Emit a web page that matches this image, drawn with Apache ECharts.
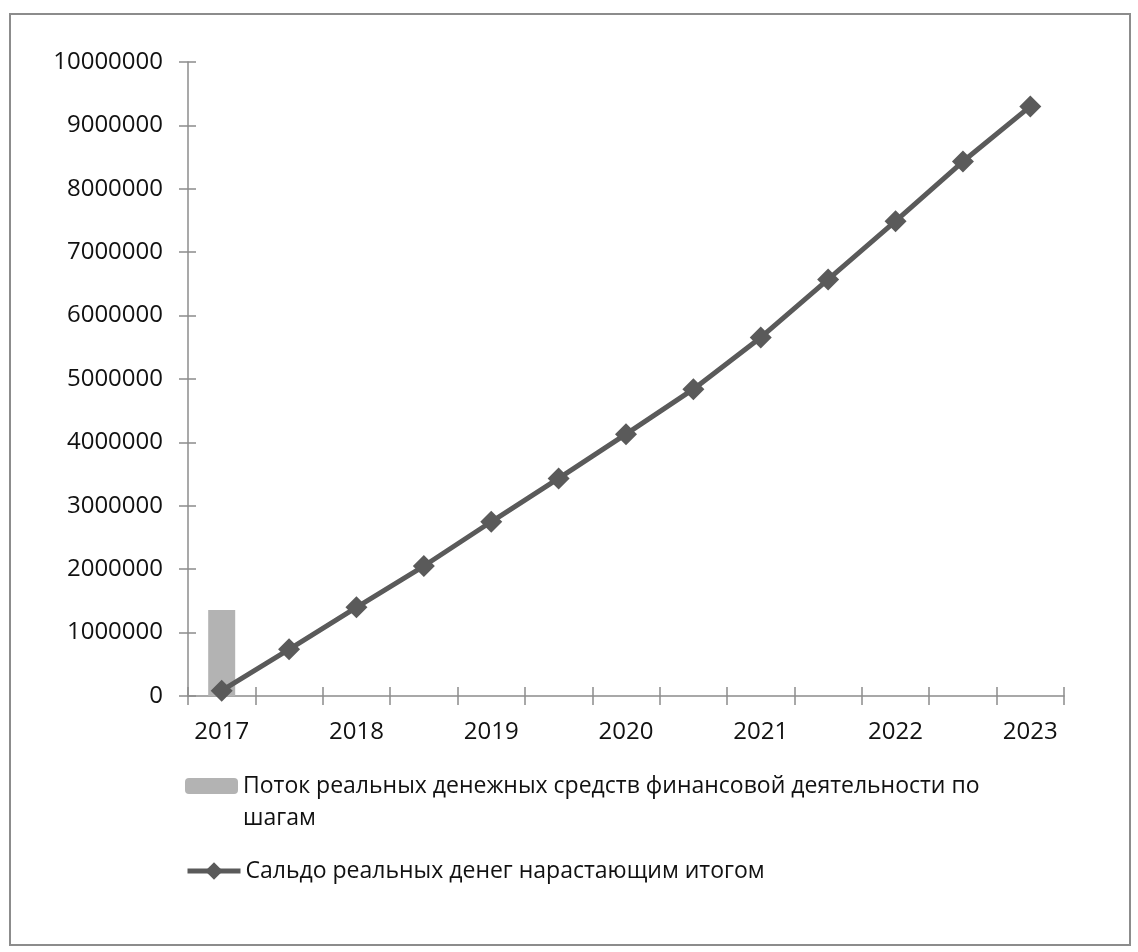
<!DOCTYPE html>
<html>
<head>
<meta charset="utf-8">
<script src="https://cdn.jsdelivr.net/npm/echarts@6/dist/echarts.min.js"></script>
<style>
  html, body { margin: 0; padding: 0; background: #fff; }
  #chart { width: 1138px; height: 952px; }
</style>
</head>
<body>
<div id="chart"></div>
<script>
// полугодовые шаги, подписи только у целых лет
const categories = ['2017', '', '2018', '', '2019', '', '2020', '', '2021', '', '2022', '', '2023']
const flowByStep = [1356000, null, null, null, null, null, null, null, null, null, null, null, null]
const balanceTotal = [84000, 736000, 1398000, 2050000, 2748000, 3432000, 4130000, 4840000, 5655000, 6570000, 7490000, 8430000, 9300000]
const flowName = 'Поток реальных денежных средств финансовой деятельности по шагам'
const balanceName = 'Сальдо реальных денег нарастающим итогом'

const axisColor = '#8c8c8c'
const textColor = '#111'
const lineColor = '#5a5a5a'
const font = 'Open Sans'
const fontSize = 23
const axisFontSize = 24
const lh = 32

const myChart = echarts.init(document.getElementById('chart'))

const option = {
    animation: false,
    backgroundColor: '#fff',
    textStyle: { fontFamily: font },
    graphic: [
        {
            type: 'rect',
            shape: { x: 10, y: 14, width: 1120, height: 931 },
            style: { fill: 'none', stroke: axisColor, lineWidth: 2 },
            silent: true
        }
    ],
    grid: { left: 188, top: 62, width: 876, height: 634 },
    legend: [
        {
            data: [flowName],
            orient: 'vertical',
            left: 185,
            top: 738,
            padding: 0,
            itemWidth: 53,
            itemHeight: 16,
            selectedMode: false,
            // пустая первая строка, чтобы значок стоял напротив первой строки текста
            formatter: () => '\nПоток реальных денежных средств финансовой деятельности по\nшагам',
            textStyle: { color: textColor, fontSize: fontSize, fontFamily: font, lineHeight: lh }
        },
        {
            data: [balanceName],
            orient: 'vertical',
            left: 185,
            top: 855,
            padding: 0,
            itemWidth: 53,
            itemHeight: 22,
            selectedMode: false,
            lineStyle: { width: 5, color: lineColor },
            textStyle: { color: textColor, fontSize: fontSize, fontFamily: font, lineHeight: lh }
        }
    ],
    xAxis: [
        {
            type: 'category',
            data: categories,
            boundaryGap: true,
            axisLine: { lineStyle: { color: axisColor, width: 1.5 } },
            axisTick: { show: true, interval: 0, length: 9, lineStyle: { color: axisColor, width: 1.5 } },
            axisLabel: { interval: 0, margin: 24, color: textColor, fontSize: axisFontSize, fontFamily: font },
            splitLine: { show: false }
        },
        {
            // вторая ось только ради засечек внутрь (крестиком, как в Excel)
            type: 'category',
            data: categories,
            position: 'bottom',
            boundaryGap: true,
            axisLine: { show: false },
            axisTick: { show: true, inside: true, interval: 0, length: 9, lineStyle: { color: axisColor, width: 1.5 } },
            axisLabel: { show: false },
            splitLine: { show: false }
        }
    ],
    yAxis: [
        {
            type: 'value',
            min: 0,
            max: 10000000,
            interval: 1000000,
            axisLine: { show: true, lineStyle: { color: axisColor, width: 1.5 } },
            axisTick: { show: true, length: 9, lineStyle: { color: axisColor, width: 1.5 } },
            axisLabel: { margin: 25, color: textColor, fontSize: axisFontSize, fontFamily: font, formatter: (v) => String(v) },
            splitLine: { show: false }
        },
        {
            type: 'value',
            position: 'left',
            min: 0,
            max: 10000000,
            interval: 1000000,
            axisLine: { show: false },
            axisTick: { show: true, inside: true, length: 8, lineStyle: { color: axisColor, width: 1.5 } },
            axisLabel: { show: false },
            splitLine: { show: false }
        }
    ],
    series: [
        {
            name: flowName,
            type: 'bar',
            data: flowByStep,
            barWidth: 27,
            itemStyle: { color: '#b3b3b3' }
        },
        {
            name: balanceName,
            type: 'line',
            data: balanceTotal,
            symbol: 'diamond',
            symbolSize: 22,
            lineStyle: { color: lineColor, width: 5 },
            itemStyle: { color: lineColor }
        }
    ]
}

myChart.setOption(option)
</script>
</body>
</html>
